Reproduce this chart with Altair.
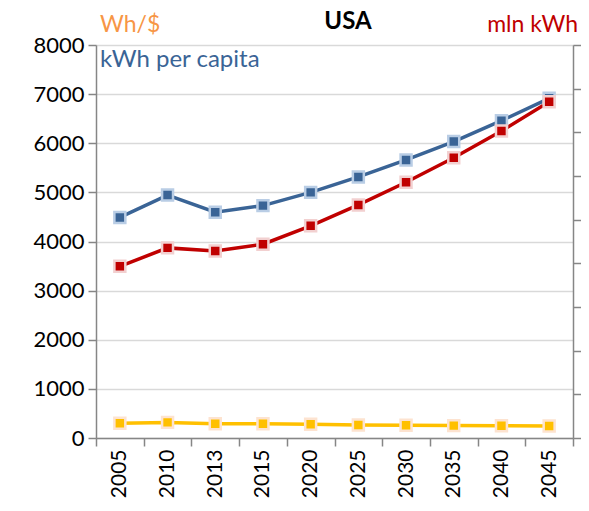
import altair as alt
import pandas as pd

years = ["2005", "2010", "2013", "2015", "2020", "2025", "2030", "2035", "2040", "2045"]
kwh_per_capita = [4490, 4945, 4595, 4730, 5000, 5315, 5660, 6035, 6460, 6915]
mln_kwh = [3495, 3870, 3805, 3945, 4320, 4745, 5205, 5705, 6250, 6845]
wh_per_usd = [300, 318, 292, 290, 280, 266, 258, 252, 250, 244]

series = ["kWh per capita", "mln kWh", "Wh/$"]
line_colors = ["#3A6496", "#C00000", "#FFC000"]
marker_strokes = ["#B9CDE5", "#F2D0D0", "#FDE3D0"]

rows = []
for name, vals in zip(series, [kwh_per_capita, mln_kwh, wh_per_usd]):
    for y, v in zip(years, vals):
        rows.append({"year": y, "value": v, "series": name})
df = pd.DataFrame(rows)

FONT = "Lato"

x_enc = alt.X(
    "year:O",
    sort=years,
    bandPosition=0.5,
    scale=alt.Scale(type="band", paddingInner=0, paddingOuter=0),
    axis=alt.Axis(
        title=None, labelAngle=-90, tickBand="extent", grid=False,
        labelFontSize=21, labelFont=FONT, labelColor="#000000",
        domainColor="#868686", domainWidth=1.5, tickColor="#868686",
        tickWidth=1.5, tickSize=8, labelPadding=3,
    ),
)
y_enc = alt.Y(
    "value:Q",
    scale=alt.Scale(domain=[0, 8000], nice=False),
    axis=alt.Axis(
        title=None, values=[0, 1000, 2000, 3000, 4000, 5000, 6000, 7000, 8000],
        format="d",
        labelFontSize=22, labelFont=FONT, labelColor="#000000",
        domainColor="#868686", domainWidth=1.5, tickColor="#868686",
        tickWidth=1.5, tickSize=8, gridColor="#D9D9D9", gridWidth=1.5,
        labelPadding=4,
    ),
)

base = alt.Chart(df)
lines = base.mark_line(strokeWidth=3.5).encode(
    x=x_enc, y=y_enc,
    color=alt.Color("series:N", scale=alt.Scale(domain=series, range=line_colors), legend=None),
    detail="series:N",
)
points = base.mark_point(shape="square", filled=True, size=120, strokeWidth=2.5, opacity=1).encode(
    x=x_enc, y=y_enc,
    fill=alt.Fill("series:N", scale=alt.Scale(domain=series, range=line_colors), legend=None),
    stroke=alt.Stroke("series:N", scale=alt.Scale(domain=series, range=marker_strokes), legend=None),
)

labels_df = pd.DataFrame({"t": ["USA"]})
title_usa = alt.Chart(labels_df).mark_text(
    text="USA", font=FONT, fontSize=24, fontWeight="bold", color="#000000",
    align="center", baseline="alphabetic",
).encode(x=alt.value(252), y=alt.value(-16))
t_wh = alt.Chart(labels_df).mark_text(
    text="Wh/$", font=FONT, fontSize=23, color="#F79646", align="left", baseline="middle",
).encode(x=alt.value(4), y=alt.value(-20))
t_kwh = alt.Chart(labels_df).mark_text(
    text="kWh per capita", font=FONT, fontSize=24, color="#3A6496", align="left", baseline="middle",
).encode(x=alt.value(4), y=alt.value(15))
t_mln = alt.Chart(labels_df).mark_text(
    text="mln kWh", font=FONT, fontSize=23, color="#C00000", align="right", baseline="middle",
).encode(x=alt.value(482), y=alt.value(-20))

right_df = pd.DataFrame({"r": [0, 9]})
right_axis = alt.Chart(right_df).mark_point(opacity=0).encode(
    y=alt.Y(
        "r:Q",
        scale=alt.Scale(domain=[0, 9], nice=False),
        axis=alt.Axis(
            orient="right", title=None, labels=False, grid=False,
            values=[0, 1, 2, 3, 4, 5, 6, 7, 8, 9],
            domainColor="#868686", domainWidth=1.5, tickColor="#868686",
            tickWidth=1.5, tickSize=8,
        ),
    ),
)

left_layer = alt.layer(lines, points, title_usa, t_wh, t_kwh, t_mln)
chart = alt.layer(left_layer, right_axis).resolve_scale(y="independent").properties(
    width=477, height=393,
    autosize=alt.AutoSizeParams(type="none"),
    padding={"left": 88, "top": 37, "right": 8, "bottom": 64},
).configure_view(stroke=None).configure(background="#FFFFFF")

chart.save("out.html", embed_options={"renderer": "svg", "actions": False})
